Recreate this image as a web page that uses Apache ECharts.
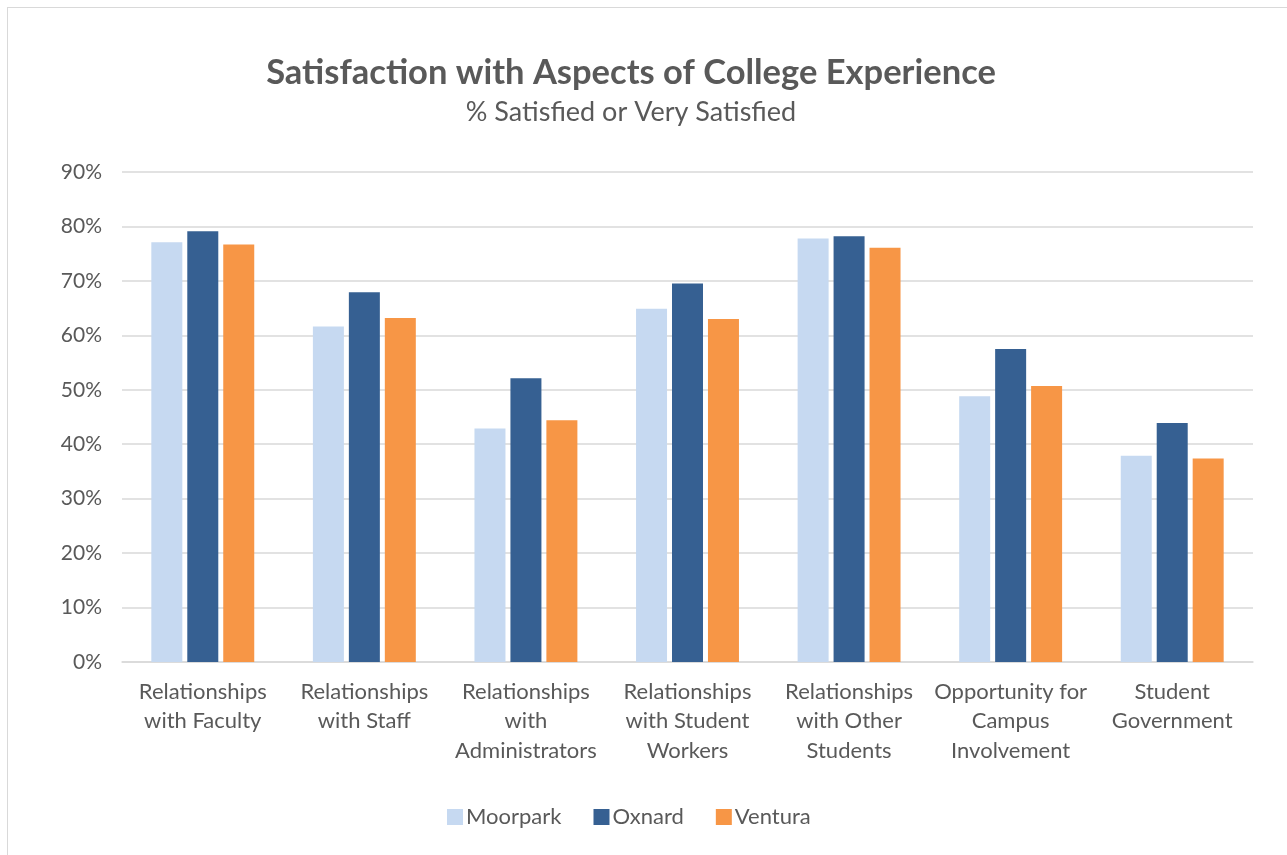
<!DOCTYPE html>
<html>
<head>
<meta charset="utf-8">
<script src="https://cdn.jsdelivr.net/npm/echarts@6/dist/echarts.min.js"></script>
<style>
html,body{margin:0;padding:0;background:#fff;}
#frame{position:absolute;left:7px;top:7px;width:1290px;height:860px;border:1px solid #d9d9d9;box-sizing:border-box;}
#chart{position:absolute;left:0;top:0;width:1287px;height:855px;}
</style>
</head>
<body>
<div id="frame"></div>
<div id="chart"></div>
<script>
const categories = [
  "Relationships\nwith Faculty",
  "Relationships\nwith Staff",
  "Relationships\nwith\nAdministrators",
  "Relationships\nwith Student\nWorkers",
  "Relationships\nwith Other\nStudents",
  "Opportunity for\nCampus\nInvolvement",
  "Student\nGovernment"
];
const moorpark = [77.1, 61.6, 42.9, 64.9, 77.8, 48.8, 37.9];
const oxnard   = [79.1, 67.9, 52.1, 69.5, 78.2, 57.5, 43.9];
const ventura  = [76.7, 63.2, 44.4, 63.0, 76.1, 50.7, 37.4];
const yTicks = [0, 10, 20, 30, 40, 50, 60, 70, 80, 90];

const FONT = 'Lato, "Open Sans", sans-serif';
const chart = echarts.init(document.getElementById('chart'), null, {renderer: 'canvas'});
const mk = (name, data, color) => ({
  name, type: 'bar', data, barWidth: 31, barGap: '16%',
  itemStyle: {color}
});
chart.setOption({
  animation: false,
  title: {
    text: 'Satisfaction with Aspects of College Experience',
    subtext: '% Satisfied or Very Satisfied',
    left: 626, textAlign: 'center', top: 50,
    itemGap: 9,
    textStyle: {fontFamily: FONT, fontSize: 34.5, fontWeight: 'bold', color: '#595959'},
    subtextStyle: {fontFamily: FONT, fontSize: 27, color: '#595959'}
  },
  legend: {
    bottom: 22, left: 442,
    itemWidth: 16, itemHeight: 16, itemGap: 32,
    icon: 'rect',
    textStyle: {fontFamily: FONT, fontSize: 22, color: '#595959', padding: [0,0,0,-2]},
    data: ['Moorpark', 'Oxnard', 'Ventura']
  },
  grid: {left: 122, right: 34, top: 172, bottom: 193, containLabel: false},
  xAxis: {
    type: 'category', data: categories,
    axisLine: {lineStyle: {color: '#d9d9d9', width: 1.5}},
    axisTick: {show: false},
    axisLabel: {fontFamily: FONT, fontSize: 22, color: '#595959', lineHeight: 29.5, margin: 15, interval: 0}
  },
  yAxis: {
    type: 'value', min: 0, max: 90, interval: 10,
    axisLine: {show: false}, axisTick: {show: false},
    splitLine: {lineStyle: {color: '#d9d9d9', width: 1.5}},
    axisLabel: {fontFamily: FONT, fontSize: 21, color: '#595959', margin: 20,
      formatter: v => yTicks.includes(v) ? v + '%' : ''}
  },
  series: [
    mk('Moorpark', moorpark, '#C6D9F1'),
    mk('Oxnard', oxnard, '#366092'),
    mk('Ventura', ventura, '#F79646')
  ]
});
</script>
</body>
</html>
